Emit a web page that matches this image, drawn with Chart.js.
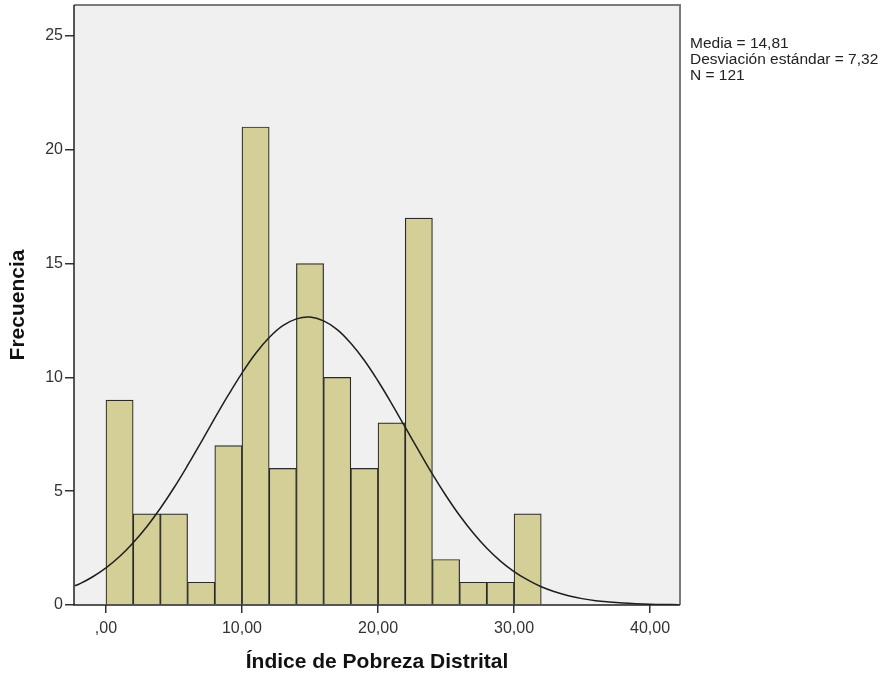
<!DOCTYPE html>
<html>
<head>
<meta charset="utf-8">
<script src="https://cdn.jsdelivr.net/npm/chart.js@4.4.1/dist/chart.umd.min.js"></script>
<style>
  html, body { margin: 0; padding: 0; background: #ffffff; }
  #wrap { position: relative; width: 887px; height: 676px; }
  #stats { position: absolute; left: 690px; top: 35px; font: 15.5px "Liberation Sans", Arial, sans-serif; color: #222; line-height: 16px; white-space: nowrap; }
</style>
</head>
<body>
<div id="wrap">
  <canvas id="c" width="887" height="676"></canvas>
  <div id="stats">Media = 14,81<br>Desviación estándar = 7,32<br>N = 121</div>
</div>
<script>
// Histogram bins (centre of each 2-unit bin) and counts
const binCenters = [1, 3, 5, 7, 9, 11, 13, 15, 17, 19, 21, 23, 25, 27, 29, 31];
const frequencies = [9, 4, 4, 1, 7, 21, 6, 15, 10, 6, 8, 17, 2, 1, 1, 4];

// Normal curve points
const curveX = [-2.3, -2, -1, 0, 1, 2, 3, 4, 5, 6, 7, 8, 9, 10, 11, 12, 13, 14, 15, 16, 17, 18, 19, 20, 21, 22, 23, 24, 25, 26, 27, 28, 29, 30, 31, 32, 33, 34, 35, 36, 37, 38, 39, 40, 41, 42.1];
const curveY = [0.84, 0.91, 1.23, 1.63, 2.13, 2.74, 3.44, 4.25, 5.15, 6.13, 7.16, 8.21, 9.23, 10.19, 11.05, 11.75, 12.27, 12.57, 12.65, 12.48, 12.10, 11.50, 10.74, 9.84, 8.85, 7.81, 6.77, 5.75, 4.80, 3.93, 3.16, 2.49, 1.93, 1.47, 1.10, 0.80, 0.58, 0.41, 0.28, 0.19, 0.13, 0.084, 0.054, 0.034, 0.021, 0.013];

const xTickValues = [0, 10, 20, 30, 40];
const xTickLabels = [',00', '10,00', '20,00', '30,00', '40,00'];
const yTickValues = [0, 5, 10, 15, 20, 25];

const plotBg = {
  id: 'plotBg',
  beforeDraw(chart) {
    const {ctx, chartArea: a} = chart;
    ctx.save();
    ctx.fillStyle = '#f0f0f0';
    ctx.fillRect(a.left, a.top, a.right - a.left, a.bottom - a.top);
    ctx.restore();
  },
  afterDatasetsDraw(chart) {
    const {ctx, chartArea: a} = chart;
    ctx.save();
    ctx.strokeStyle = '#7a7a7a';
    ctx.lineWidth = 2;
    ctx.beginPath();
    ctx.moveTo(a.left, a.top);
    ctx.lineTo(a.right, a.top);
    ctx.lineTo(a.right, a.bottom);
    ctx.stroke();
    ctx.strokeStyle = '#222';
    ctx.lineWidth = 1.5;
    ctx.beginPath();
    ctx.moveTo(a.left, a.top);
    ctx.lineTo(a.left, a.bottom);
    ctx.lineTo(a.right, a.bottom);
    ctx.stroke();
    ctx.restore();
  }
};

const tickFont = { family: '"Liberation Sans", Arial, sans-serif', size: 16 };
const titleFont = { family: '"Liberation Sans", Arial, sans-serif', size: 21, weight: 'bold' };

new Chart(document.getElementById('c'), {
  type: 'bar',
  data: {
    datasets: [
      {
        type: 'line',
        data: curveX.map((x, i) => ({ x: x, y: curveY[i] })),
        borderColor: '#1e1e1e',
        borderWidth: 1.5,
        pointRadius: 0,
        tension: 0.4,
        fill: false,
        order: 0
      },
      {
        type: 'bar',
        data: binCenters.map((x, i) => ({ x: x, y: frequencies[i] })),
        backgroundColor: '#d3cf97',
        borderColor: '#2a2a2a',
        borderWidth: 1.2,
        barPercentage: 1,
        categoryPercentage: 1,
        order: 1
      }
    ]
  },
  options: {
    responsive: false,
    animation: false,
    layout: { padding: { left: 0, right: 207, top: 5, bottom: 0 } },
    plugins: { legend: { display: false }, tooltip: { enabled: false } },
    scales: {
      x: {
        type: 'linear',
        offset: false,
        min: -2.35,
        max: 42.2,
        afterFit(s) { s.height = 71; s.paddingLeft = 0; s.paddingRight = 0; },
        afterBuildTicks(s) { s.ticks = xTickValues.map(v => ({ value: v })); },
        ticks: {
          font: tickFont,
          color: '#333',
          padding: 6,
          maxRotation: 0,
          callback: (v) => xTickLabels[xTickValues.indexOf(v)]
        },
        grid: { offset: false, drawOnChartArea: false, tickLength: 8, color: '#333', lineWidth: 1.5 },
        border: { display: false },
        title: { display: true, text: 'Índice de Pobreza Distrital', font: titleFont, color: '#111', padding: { top: 0, bottom: 1 } }
      },
      y: {
        type: 'linear',
        min: 0,
        max: 26.36,
        afterFit(s) { s.width = 74; s.paddingTop = 0; s.paddingBottom = 0; },
        afterBuildTicks(s) { s.ticks = yTickValues.map(v => ({ value: v })); },
        ticks: { font: tickFont, color: '#333', padding: 2 },
        grid: { drawOnChartArea: false, tickLength: 9, color: '#333', lineWidth: 1.5 },
        border: { display: false },
        title: { display: true, text: 'Frecuencia', font: titleFont, color: '#111', padding: { top: 6, bottom: 0 } }
      }
    }
  },
  plugins: [plotBg]
});
</script>
</body>
</html>
